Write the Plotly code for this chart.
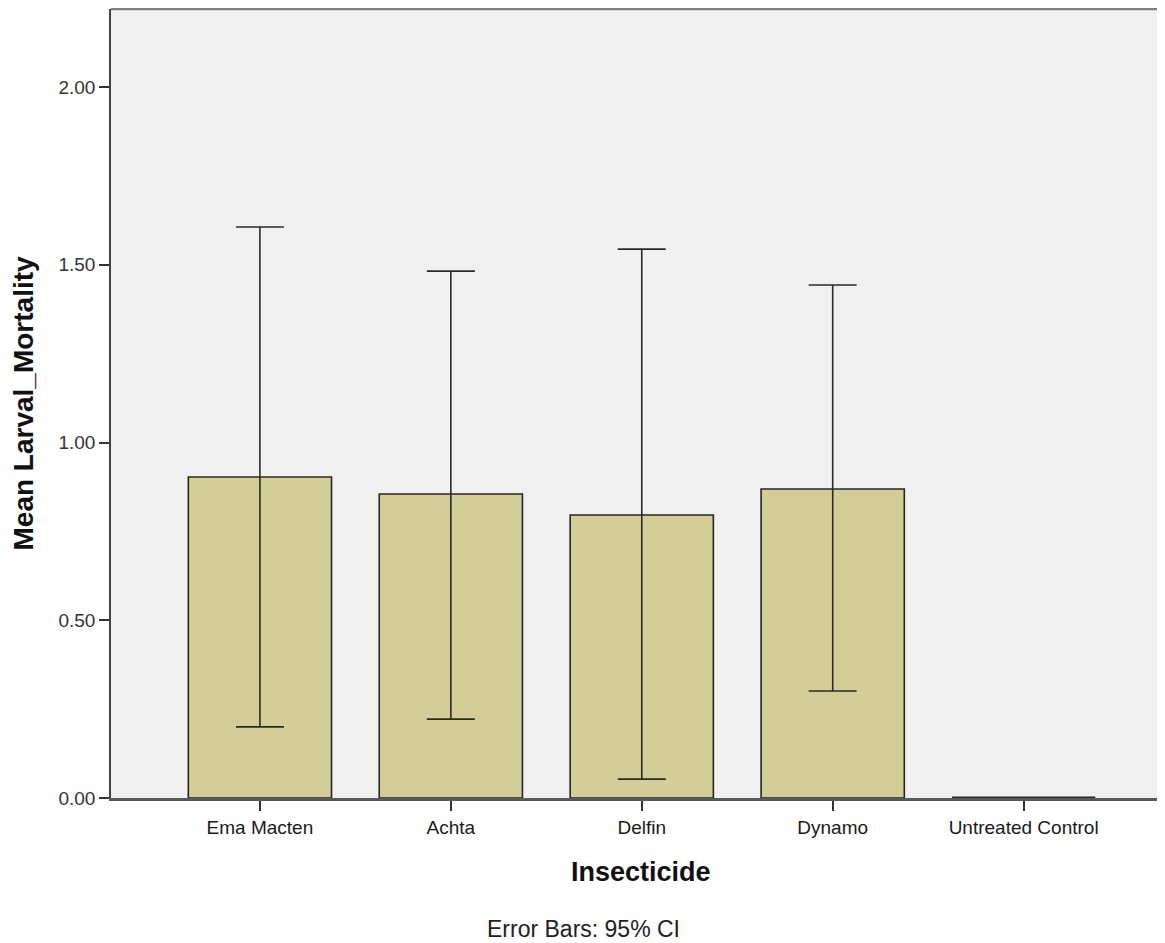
import plotly.graph_objects as go

categories = ["Ema Macten", "Achta", "Delfin", "Dynamo", "Untreated Control"]
means = [0.903, 0.855, 0.796, 0.869, 0.0]
ci_upper = [1.606, 1.482, 1.544, 1.443, 0.0]
ci_lower = [0.200, 0.222, 0.053, 0.301, 0.0]
y_ticks = [0.0, 0.5, 1.0, 1.5, 2.0]
y_tick_labels = ["0.00", "0.50", "1.00", "1.50", "2.00"]

err_plus = [u - m for u, m in zip(ci_upper, means)]
err_minus = [m - l for m, l in zip(means, ci_lower)]
show_err = [m > 0 for m in means]

# figure sized to fit inside the page's default 8px body margin
W, H = 1157, 935
L, R, T, B = 103, 2, 1, 145
plot_w = W - L - R
plot_h = H - T - B

fig = go.Figure()
fig.add_trace(go.Bar(
    x=list(range(len(categories))),
    y=means,
    width=0.75,
    marker=dict(color="#D3CE97",
                line=dict(color="#262626", width=[1.6 if m > 0 else 3 for m in means])),
    error_y=dict(
        type="data",
        symmetric=False,
        array=[p if s else None for p, s in zip(err_plus, show_err)],
        arrayminus=[p if s else None for p, s in zip(err_minus, show_err)],
        color="#2a2a2a",
        thickness=1.6,
        width=24,
    ),
    showlegend=False,
    hoverinfo="skip",
))

font_family = "Liberation Sans, Arial, sans-serif"

fig.update_layout(
    width=W,
    height=H,
    margin=dict(l=L, r=R, t=T, b=B),
    paper_bgcolor="white",
    plot_bgcolor="#F0F0F0",
    font=dict(family=font_family, size=20, color="#222222"),
    xaxis=dict(
        range=[-0.78, 4.73],
        tickmode="array",
        tickvals=list(range(len(categories))),
        ticktext=categories,
        ticks="outside",
        ticklen=10,
        tickwidth=1.6,
        tickcolor="#333333",
        tickfont=dict(size=19, color="#1a1a1a"),
        showgrid=False,
        zeroline=False,
        showline=True,
        linecolor="#5a5a5a",
        linewidth=2.5,
    ),
    yaxis=dict(
        range=[0, 789 / 355.5],
        tickmode="array",
        tickvals=y_ticks,
        ticktext=y_tick_labels,
        ticks="outside",
        ticklen=10,
        tickwidth=1.6,
        tickcolor="#333333",
        tickfont=dict(size=19, color="#333333"),
        showgrid=False,
        zeroline=False,
        showline=True,
        linecolor="#444444",
        linewidth=1.6,
    ),
    shapes=[
        dict(type="line", xref="paper", yref="paper", x0=0, x1=1, y0=1, y1=1,
             line=dict(color="#808080", width=2.5)),
    ],
    annotations=[
        dict(text="<b>Insecticide</b>", xref="paper", yref="paper",
             x=(641 - 111) / plot_w, y=-(872 - 798) / plot_h,
             xanchor="center", yanchor="middle", showarrow=False,
             font=dict(size=27, color="#111111")),
        dict(text="<b>Mean Larval_Mortality</b>", xref="paper", yref="paper",
             x=-(111 - 23) / plot_w, y=0.5, textangle=-90,
             xanchor="center", yanchor="middle", showarrow=False,
             font=dict(size=28, color="#111111")),
        dict(text="Error Bars: 95% CI", xref="paper", yref="paper",
             x=(583 - 111) / plot_w, y=-(929 - 798) / plot_h,
             xanchor="center", yanchor="middle", showarrow=False,
             font=dict(size=23, color="#222222")),
    ],
)

fig.write_html("out.html")
